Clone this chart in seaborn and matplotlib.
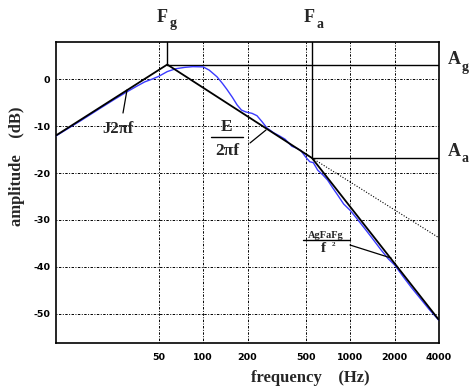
import numpy as np
import pandas as pd
import seaborn as sns
import matplotlib.pyplot as plt
from matplotlib.lines import Line2D
from matplotlib.ticker import FixedLocator, NullLocator

# ---------------- data ----------------
x_ticks = [50, 100, 200, 500, 1000, 2000, 4000]
x_tick_labels = ["50", "100", "200", "500", "1000", "2000", "4000"]
y_ticks = [0, -10, -20, -30, -40, -50]
y_tick_labels = ["0", "-10", "-20", "-30", "-40", "-50"]

# asymptotic (black) model: break points
asym_freq = [10, 57, 548, 4000]
asym_db = [-12.0, 3.1, -16.8, -51.3]
# -6 dB/oct continuation beyond Fa (dotted)
ext_freq = [548, 4000]
ext_db = [-16.8, -33.8]

# measured (blue) spectrum
meas_freq = [10, 15, 20, 25, 30, 35, 40, 45, 50, 57, 65, 75, 85, 100, 110, 124,
             135, 145, 158, 170, 182, 195, 215, 232, 250, 271, 300, 330, 360,
             400, 430, 460, 500, 530, 560, 600, 650, 700, 760, 820, 900, 1000,
             1100, 1250, 1400, 1600, 1800, 2000, 2300, 2600, 3000, 3400, 3700, 4000]
meas_db = [-12.1, -8.7, -6.2, -4.3, -2.8, -1.6, -0.6, 0.0, 0.6, 1.6, 2.2, 2.5,
           2.65, 2.6, 1.9, 0.5, -0.9, -2.2, -3.9, -5.5, -6.6, -7.0, -7.3, -7.8,
           -9.0, -10.4, -11.4, -12.1, -12.8, -14.3, -14.7, -15.2, -16.7, -17.6,
           -17.8, -19.4, -20.4, -21.5, -23.2, -24.7, -26.6, -28.0, -29.6, -31.8,
           -33.8, -36.2, -38.2, -39.6, -42.2, -44.4, -46.8, -48.9, -50.2, -51.4]

Fg, Ag = 57, 3.1
Fa, Aa = 548, -16.8

# ---------------- figure ----------------
sns.set_style("white")
plt.rcParams["font.family"] = ["DejaVu Sans"]

W, H = 469, 390
fig = plt.figure(figsize=(W / 100, H / 100), dpi=100)
ax = fig.add_axes([56 / W, 1 - 343 / H, (439 - 56) / W, (343 - 42) / H])

def px(x, y):
    return (x / W, 1 - y / H)

df_meas = pd.DataFrame({"f": meas_freq, "db": meas_db})
df_asym = pd.DataFrame({"f": asym_freq, "db": asym_db})
df_ext = pd.DataFrame({"f": ext_freq, "db": ext_db})

sns.lineplot(data=df_meas, x="f", y="db", ax=ax, color="#3a3aff", lw=1.0,
             sort=False, estimator=None, zorder=3)
sns.lineplot(data=df_asym, x="f", y="db", ax=ax, color="black", lw=1.3,
             sort=False, estimator=None, zorder=4)
sns.lineplot(data=df_ext, x="f", y="db", ax=ax, color="black", lw=0.8,
             linestyle=(0, (1, 1.5)), sort=False, estimator=None, zorder=4)

ax.set_xscale("log")
ax.set_xlim(10, 4000)
ax.set_ylim(-56.2, 7.9)

# Fg / Ag, Fa / Aa reference lines
ax.axvline(Fg, ymin=(Ag + 56.2) / (7.9 + 56.2), ymax=1, color="black", lw=1.0, zorder=2)
ax.plot([Fg, 4000], [Ag, Ag], color="black", lw=1.0, zorder=2)
ax.axvline(Fa, ymin=(Aa + 56.2) / (7.9 + 56.2), ymax=1, color="black", lw=1.0, zorder=2)
ax.plot([Fa, 4000], [Aa, Aa], color="black", lw=1.0, zorder=2)

ax.xaxis.set_major_locator(FixedLocator(x_ticks))
ax.xaxis.set_minor_locator(NullLocator())
ax.set_xticklabels(x_tick_labels)
ax.set_yticks(y_ticks)
ax.set_yticklabels(y_tick_labels)
ax.tick_params(axis="both", length=0, labelsize=6.8, colors="black")
ax.tick_params(axis="x", pad=7)
ax.tick_params(axis="y", pad=4)
for lab in ax.get_xticklabels() + ax.get_yticklabels():
    lab.set_fontweight("bold")

ax.grid(True, which="major", color="black", lw=0.7, linestyle=(0, (1, 1.5, 2.5, 1.5)))
for s in ax.spines.values():
    s.set_color("black")
    s.set_linewidth(1.2)
    s.set_visible(True)
ax.set_xlabel("")
ax.set_ylabel("")

serif = ["Liberation Serif", "DejaVu Serif"]

# axis labels
fig.text(*px(310, 378), "frequency    (Hz)", ha="center", va="center",
         fontsize=12, fontweight="bold", family=serif)
fig.text(*px(17, 166), "amplitude    (dB)", ha="center", va="center",
         rotation=90, fontsize=12, fontweight="bold", family=serif)

# Fg / Fa / Ag / Aa labels
def sublabel(x, y, main, sub):
    fig.text(*px(x, y), main, ha="center", va="center", fontsize=13,
             fontweight="bold", family=serif)
    fig.text(*px(x + 11, y + 7), sub, ha="center", va="center", fontsize=10,
             fontweight="bold", family=serif)

sublabel(162, 17, "F", "g")
sublabel(309, 17, "F", "a")
sublabel(454, 60, "A", "g")
sublabel(454, 152, "A", "a")

# J2πf annotation
fig.text(*px(118, 129), "J2\u03c0f", ha="center", va="center", fontsize=12,
         fontweight="bold", family=serif)
fig.add_artist(Line2D([123 / W, 127 / W], [1 - 113 / H, 1 - 90 / H],
                      color="black", lw=0.9))

# E / 2πf annotation
fig.text(*px(227, 127), "E", ha="center", va="center", fontsize=12.5,
         fontweight="bold", family=serif)
fig.add_artist(Line2D([211 / W, 243 / W], [1 - 137 / H, 1 - 137 / H],
                      color="black", lw=1.0))
fig.text(*px(227, 151), "2\u03c0f", ha="center", va="center", fontsize=12.5,
         fontweight="bold", family=serif)
fig.add_artist(Line2D([250 / W, 266 / W], [1 - 143 / H, 1 - 130 / H],
                      color="black", lw=0.9))

# AgFaFg / f² annotation
fig.text(*px(326, 235), "AgFaFg", ha="center", va="center", fontsize=7.5,
         fontweight="bold", family=serif)
fig.add_artist(Line2D([303 / W, 350 / W], [1 - 240 / H, 1 - 240 / H],
                      color="black", lw=1.0))
fig.text(*px(323, 249), "f", ha="center", va="center", fontsize=11,
         fontweight="bold", family=serif)
fig.text(*px(333, 245), "2", ha="center", va="center", fontsize=5,
         fontweight="bold", family=serif)
fig.add_artist(Line2D([350 / W, 391 / W], [1 - 245 / H, 1 - 258 / H],
                      color="black", lw=0.9))

fig.savefig("out.png", dpi=100)
